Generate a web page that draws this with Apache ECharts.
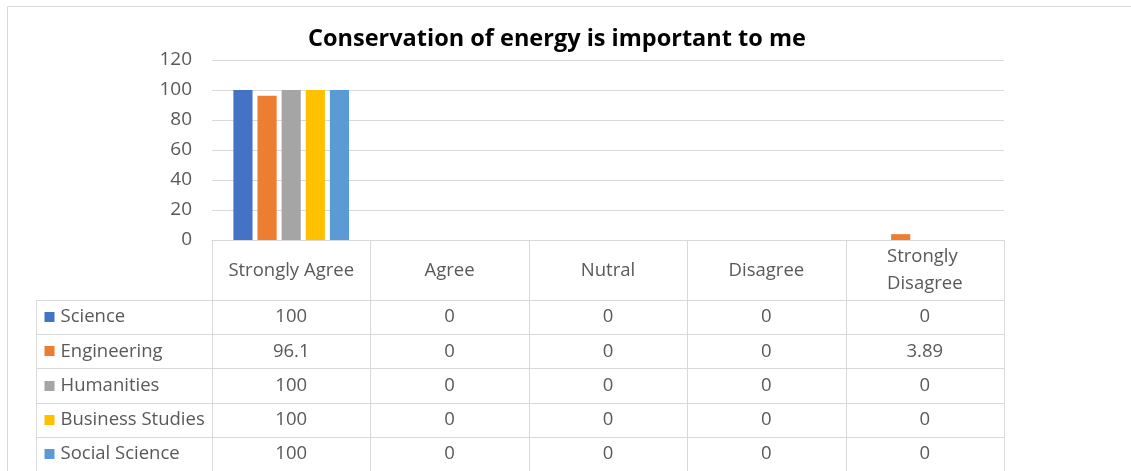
<!DOCTYPE html>
<html>
<head>
<meta charset="utf-8">
<script src="https://cdn.jsdelivr.net/npm/echarts@6/dist/echarts.min.js"></script>
<style>html,body{margin:0;padding:0;background:#fff;}#c{width:1131px;height:471px;}</style>
</head>
<body>
<div id="c"></div>
<script>
const categories = ['Strongly Agree', 'Agree', 'Nutral', 'Disagree', 'Strongly Disagree'];
const seriesNames = ['Science', 'Engineering', 'Humanities', 'Business Studies', 'Social Science'];
const science = [100, 0, 0, 0, 0];
const engineering = [96.1, 0, 0, 0, 3.89];
const humanities = [100, 0, 0, 0, 0];
const businessStudies = [100, 0, 0, 0, 0];
const socialScience = [100, 0, 0, 0, 0];
const yTicks = [0, 20, 40, 60, 80, 100, 120];

const seriesValues = [science, engineering, humanities, businessStudies, socialScience];
const colors = ['#4472C4', '#ED7D31', '#A5A5A5', '#FFC000', '#5B9BD5'];
const FONT = '"Open Sans", sans-serif';
const TXT = '#595959';
const LINE = '#d9d9d9';
const HEADER_H = 60;
const LEGEND_W = 176;
const FS = 18.5;

const cells = [];
seriesValues.forEach((vals, r) => {
  vals.forEach((v, c) => cells.push({ value: [c, r], label: String(v) }));
});

const chart = echarts.init(document.getElementById('c'), null, { renderer: 'canvas' });

const barSeries = seriesNames.map((name, i) => ({
  name, type: 'bar', xAxisIndex: 0, yAxisIndex: 0,
  data: seriesValues[i], itemStyle: { color: colors[i] },
  barGap: '26%', barCategoryGap: '27%'
}));

function crisp(v) { return Math.round(v) + 0.5; }

const tableSeries = {
  type: 'custom', xAxisIndex: 1, yAxisIndex: 1,
  data: cells,
  renderItem: function (params, api) {
    const c = api.value(0), r = api.value(1);
    const p = api.coord([c, r]);
    const s = api.size([1, 1]);
    const cw = s[0], rh = s[1];
    const x0 = crisp(p[0] - cw / 2), x1 = crisp(p[0] + cw / 2);
    const y0 = crisp(p[1] - rh / 2), y1 = crisp(p[1] + rh / 2);
    const children = [
      { type: 'rect', shape: { x: x0, y: y0, width: x1 - x0, height: y1 - y0 }, style: { fill: 'none', stroke: LINE, lineWidth: 1 } },
      { type: 'text', style: { text: cells[params.dataIndex].label, x: p[0], y: p[1], align: 'center', verticalAlign: 'middle', fill: TXT, fontSize: FS, fontFamily: FONT } }
    ];
    if (c === 0) {
      const lx = crisp(p[0] - cw / 2 - LEGEND_W);
      children.push({ type: 'rect', shape: { x: lx, y: y0, width: x0 - lx, height: y1 - y0 }, style: { fill: 'none', stroke: LINE, lineWidth: 1 } });
      children.push({ type: 'rect', shape: { x: lx + 8, y: Math.round(p[1]) - 5, width: 10, height: 10 }, style: { fill: colors[r] } });
      children.push({ type: 'text', style: { text: seriesNames[r], x: lx + 24, y: p[1], align: 'left', verticalAlign: 'middle', fill: TXT, fontSize: FS, fontFamily: FONT } });
    }
    if (r === 0) {
      const hy = crisp(p[1] - rh / 2 - HEADER_H);
      children.push({ type: 'rect', shape: { x: x0, y: hy, width: x1 - x0, height: y0 - hy }, style: { fill: 'none', stroke: LINE, lineWidth: 1 } });
      children.push({ type: 'text', style: { text: categories[c], x: p[0], y: (hy + y0) / 2, align: 'center', verticalAlign: 'middle', fill: TXT, fontSize: FS, fontFamily: FONT, width: 140, overflow: 'break', lineHeight: 27 } });
    }
    return { type: 'group', children };
  }
};

chart.setOption({
  animation: false,
  backgroundColor: '#fff',
  title: {
    text: 'Conservation of energy is important to me',
    left: 303, top: 22,
    textStyle: { fontFamily: FONT, fontWeight: 'bold', fontSize: 23.5, color: '#000' }
  },
  graphic: [{
    type: 'rect', shape: { x: 7.5, y: 6.5, width: 1300, height: 600 },
    style: { fill: 'none', stroke: LINE, lineWidth: 1 }, silent: true
  }],
  grid: [
    { left: 212, top: 60, width: 792, height: 180 },
    { left: 212, top: 300, width: 792, height: 173 }
  ],
  xAxis: [
    { type: 'category', gridIndex: 0, data: categories, axisLabel: { show: false }, axisTick: { show: false }, axisLine: { show: true, lineStyle: { color: LINE } } },
    { type: 'category', gridIndex: 1, data: categories, show: false }
  ],
  yAxis: [
    { type: 'value', gridIndex: 0, min: yTicks[0], max: yTicks[yTicks.length - 1], interval: yTicks[1] - yTicks[0],
      axisLabel: { color: TXT, fontSize: 19, fontFamily: FONT, margin: 20 },
      axisLine: { show: false }, axisTick: { show: false },
      splitLine: { lineStyle: { color: LINE } } },
    { type: 'category', gridIndex: 1, data: seriesNames, inverse: true, show: false }
  ],
  series: barSeries.concat([tableSeries])
});
</script>
</body>
</html>
